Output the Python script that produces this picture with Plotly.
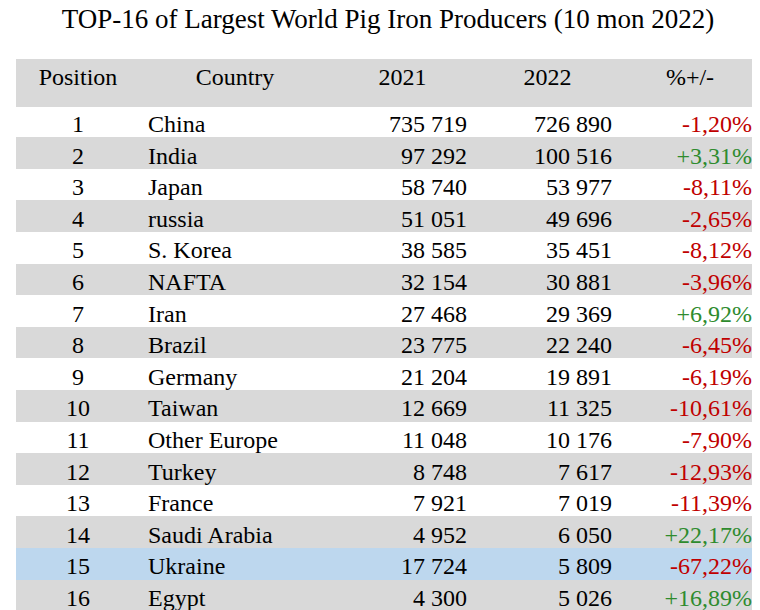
import plotly.graph_objects as go

positions = list(range(1, 17))
countries = ["China", "India", "Japan", "russia", "S. Korea", "NAFTA", "Iran", "Brazil",
             "Germany", "Taiwan", "Other Europe", "Turkey", "France", "Saudi Arabia",
             "Ukraine", "Egypt"]
y2021 = ["735 719", "97 292", "58 740", "51 051", "38 585", "32 154", "27 468", "23 775",
         "21 204", "12 669", "11 048", "8 748", "7 921", "4 952", "17 724", "4 300"]
y2022 = ["726 890", "100 516", "53 977", "49 696", "35 451", "30 881", "29 369", "22 240",
         "19 891", "11 325", "10 176", "7 617", "7 019", "6 050", "5 809", "5 026"]
change = ["-1,20%", "+3,31%", "-8,11%", "-2,65%", "-8,12%", "-3,96%", "+6,92%", "-6,45%",
          "-6,19%", "-10,61%", "-7,90%", "-12,93%", "-11,39%", "+22,17%", "-67,22%", "+16,89%"]

gray = "#d9d9d9"
fills = []
for i, c in enumerate(countries):
    if c == "Ukraine":
        fills.append("#bdd7ee")
    elif i % 2 == 1:
        fills.append(gray)
    else:
        fills.append("white")

chg_colors = ["#2e8b2e" if s.startswith("+") else "#c00000" for s in change]
black = ["black"] * len(countries)

fig = go.Figure(go.Table(
    columnwidth=[124, 190, 145, 145, 140],
    header=dict(
        values=["Position", "Country", "2021", "2022", "%+/-"],
        fill_color=gray,
        line_color=gray,
        align="center",
        height=47,
        font=dict(family="Liberation Serif", size=24, color="black"),
    ),
    cells=dict(
        values=[positions, countries, y2021, y2022, change],
        fill_color=[fills] * 5,
        line=dict(color=[fills] * 5),
        align=["center", "left", "right", "right", "right"],
        height=31.6,
        font=dict(family="Liberation Serif", size=24,
                  color=[black, black, black, black, chg_colors]),
    ),
))

fig.update_layout(
    width=760, height=610,
    margin=dict(l=8, r=8, t=51, b=0),
    paper_bgcolor="white",
    title=dict(text="TOP-16 of Largest World Pig Iron Producers (10 mon 2022)",
               x=0.5, xanchor="center", y=0.998, yanchor="top",
               font=dict(family="Liberation Serif", size=27, color="black")),
)

fig.write_html("out.html")
